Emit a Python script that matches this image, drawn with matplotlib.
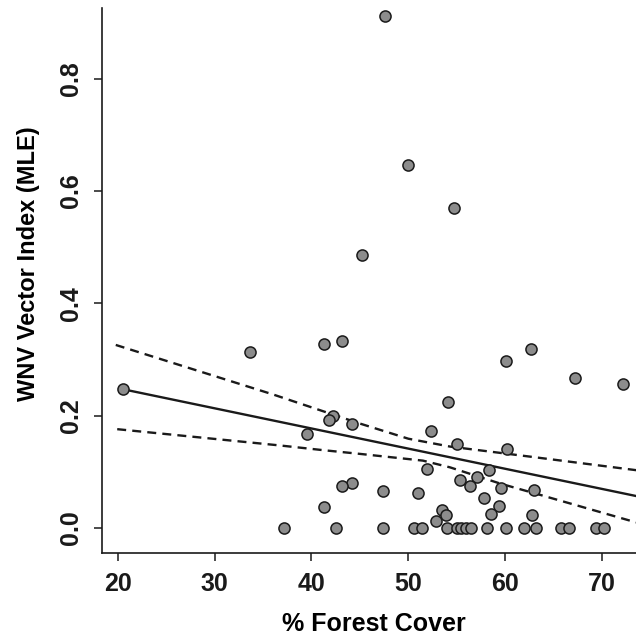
import numpy as np
import matplotlib
matplotlib.use('Agg')
import matplotlib.pyplot as plt

# % forest cover vs WNV vector index
forest = [20.58, 33.62, 41.29, 43.18, 42.25, 41.84, 44.21, 39.54, 44.21, 43.12,
          41.32, 37.13, 42.50, 47.41, 47.41, 54.12, 52.33, 55.05, 60.21, 60.10,
          62.65, 67.16, 72.11, 51.95, 58.35, 51.02, 55.33, 57.05, 56.33, 59.53,
          62.96, 57.80, 59.32, 58.56, 62.76, 53.44, 53.91, 52.85,
          50.58, 51.40, 53.98, 55.02, 55.48, 55.94, 56.51, 58.08, 60.12, 61.93,
          63.17, 65.80, 66.61, 69.36, 70.21,
          47.62, 49.99, 54.71, 45.21]
mle = [0.247, 0.313, 0.327, 0.333, 0.200, 0.193, 0.185, 0.168, 0.081, 0.075,
       0.037, 0.0, 0.0, 0.066, 0.0, 0.224, 0.173, 0.150, 0.141, 0.298,
       0.319, 0.267, 0.257, 0.105, 0.103, 0.063, 0.086, 0.090, 0.075, 0.071,
       0.068, 0.054, 0.040, 0.025, 0.023, 0.032, 0.023, 0.012,
       0.0, 0.0, 0.0, 0.0, 0.0, 0.0, 0.0, 0.0, 0.0, 0.0,
       0.0, 0.0, 0.0, 0.0, 0.0,
       0.912, 0.647, 0.569, 0.487]

# fitted line and confidence band
fit_x = [20.58, 73.49]
fit_y = [0.247, 0.057]
upper_x = [19.8, 36.0, 45.0, 50.0, 54.3, 62.6, 73.5]
upper_y = [0.326, 0.238, 0.186, 0.159, 0.145, 0.127, 0.103]
lower_x = [19.95, 36.75, 41.0, 45.0, 51.5, 54.3, 59.5, 63.6, 73.5]
lower_y = [0.176, 0.147, 0.139, 0.132, 0.120, 0.108, 0.079, 0.059, 0.010]

xticks = [20, 30, 40, 50, 60, 70]
yticks = [0.0, 0.2, 0.4, 0.6, 0.8]

plt.rcParams['font.family'] = ['Liberation Sans', 'DejaVu Sans']
plt.rcParams['font.weight'] = 'bold'

fig = plt.figure(figsize=(6.36, 6.38), dpi=100)
ax = fig.add_axes([102/636, 85/638, 534/636, 545/638])

dash = (0, (3.8, 2.6))
ax.plot(fit_x, fit_y, color='#1a1a1a', lw=1.7, zorder=2)
ax.plot(upper_x, upper_y, color='#1a1a1a', lw=1.7, ls=dash, zorder=2)
ax.plot(lower_x, lower_y, color='#1a1a1a', lw=1.7, ls=dash, zorder=2)
ax.scatter(forest, mle, s=64, c='#8c8c8c', edgecolors='#1a1a1a', linewidths=1.1, zorder=3)

ax.set_xlim(18.38, 73.49)
ax.set_ylim(-0.0445, 0.926)
ax.set_xticks(xticks)
ax.set_xticklabels([str(t) for t in xticks])
ax.set_yticks(yticks)
ax.set_yticklabels(['%.1f' % t for t in yticks], rotation=90, va='center')

for s in ['top', 'right']:
    ax.spines[s].set_visible(False)
for s in ['left', 'bottom']:
    ax.spines[s].set_linewidth(1.2)
    ax.spines[s].set_color('#1a1a1a')
ax.tick_params(direction='out', length=6, width=1.1, colors='#1a1a1a',
               labelsize=18, pad=8)

ax.set_xlabel('% Forest Cover', fontsize=18, fontweight='bold')
ax.set_ylabel('WNV Vector Index (MLE)', fontsize=17, fontweight='bold')
ax.xaxis.set_label_coords(0.509, -0.109)
ax.yaxis.set_label_coords(-0.116, 0.53)

fig.savefig('out.png', dpi=100)
